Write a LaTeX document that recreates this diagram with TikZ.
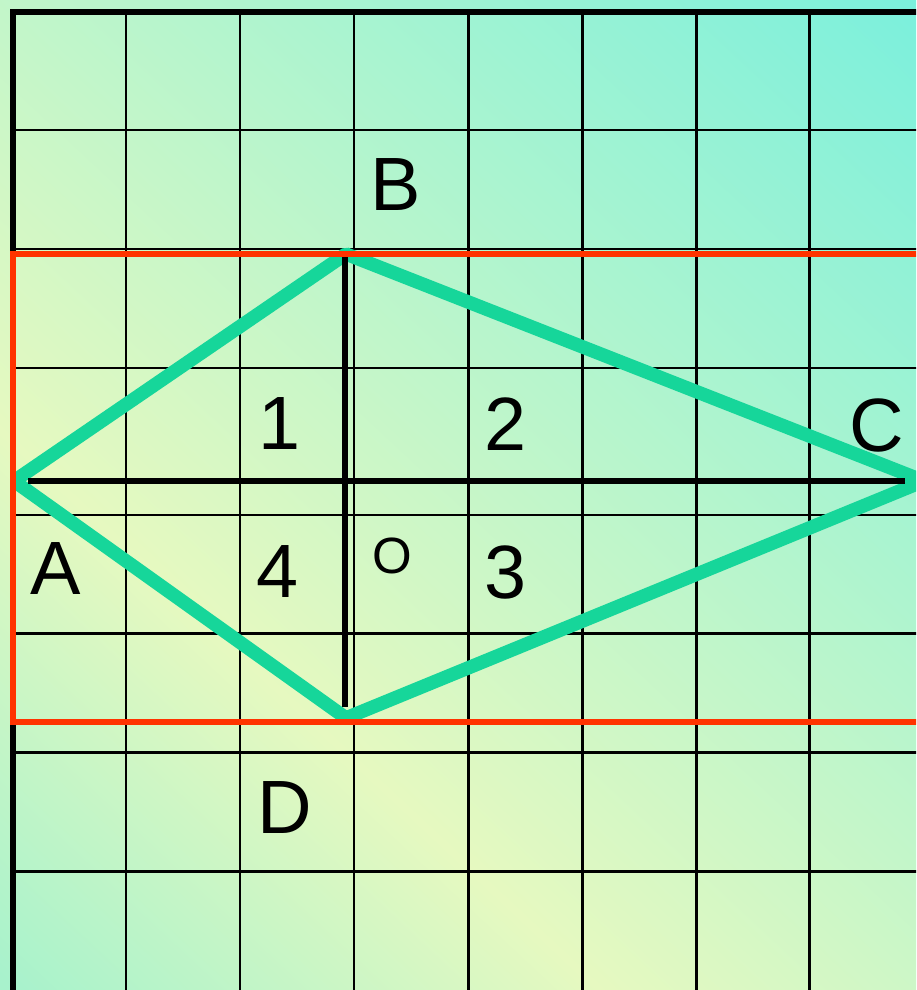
\documentclass[tikz,border=0pt]{standalone}
\usepackage{fontspec}
\setmainfont{Liberation Sans}
\usetikzlibrary{positioning}
\definecolor{bgcyan}{RGB}{124,240,220}
\definecolor{bgyellow}{RGB}{230,249,192}
\definecolor{bgmint}{RGB}{168,242,204}
\definecolor{rhombgreen}{RGB}{22,214,154}
\definecolor{boxred}{RGB}{255,51,0}
\pgfdeclarehorizontalshading{bgshade}{100bp}{color(0bp)=(bgcyan); color(15bp)=(bgcyan); color(64bp)=(bgyellow); color(85bp)=(bgmint); color(100bp)=(bgmint)}

\begin{document}
\begin{tikzpicture}[x=0.02cm, y=0.02cm,
  gridline/.style={black, line width=1.7pt},
  frameline/.style={black, line width=3.4pt},
  axisline/.style={black, line width=3.2pt},
  rhombline/.style={rhombgreen, line width=7.7pt, line join=bevel},
  redbox/.style={boxred, line width=3.4pt},
  lbl/.style={font=\fontsize{43}{43}\selectfont, inner sep=0pt}]
\useasboundingbox (0,0) rectangle (916,-990);
\clip (0,0) rectangle (916,-990);
% Background
\fill[shading=bgshade, shading angle=227] (0,0) rectangle (916,-990);
% Grid
\foreach \x in {126,240,354,468,582,696,809}
  \draw[gridline] (\x,-12) -- (\x,-995);
\foreach \y in {130,249,368,515,633,752,871}
  \draw[gridline] (13,-\y) -- (925,-\y);
\draw[frameline] (13,-995) -- (13,-12) -- (925,-12);
% Vertices and axes ends
\coordinate (A) at (14,-481);
\coordinate (B) at (346,-254);
\coordinate (C) at (924,-481);
\coordinate (D) at (346,-718);
\coordinate (O) at (345,-481);
\coordinate (hl) at (28,-481);
\coordinate (hr) at (905,-481);
\coordinate (vt) at (345,-254);
\coordinate (vb) at (345,-707);
% Rhombus
\draw[rhombline] (A) -- (B) -- (C) -- (D) -- cycle;
% Diagonals
\draw[axisline] (hl) -- (hr);
\draw[axisline] (vt) -- (vb);
% Red box
\draw[redbox] (940,-254) -- (13,-254) -- (13,-722) -- (940,-722);
% Labels
\node[lbl] (labB) at (396,-185) {B};
\node[lbl] (labC) at (877,-425) {C};
\node[lbl] (labA) at (56,-569) {A};
\node[lbl] (labD) at (285,-808) {D};
\node[lbl] (lab1) at (280,-424) {1};
\node[lbl] (lab2) at (506,-424) {2};
\node[lbl] (lab3) at (506,-572) {3};
\node[lbl] (lab4) at (278,-572) {4};
\node[lbl, font=\fontsize{29}{29}\selectfont] (labO) at (392,-556) {O};
\end{tikzpicture}
\end{document}
